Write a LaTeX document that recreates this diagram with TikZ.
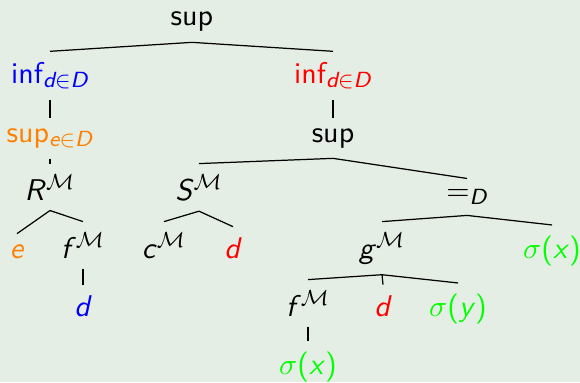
\documentclass[tikz,border=0pt,11pt]{standalone}
\usepackage{amsmath}
\definecolor{slide}{HTML}{E5EEE5}
\definecolor{qblue}{HTML}{0000FF}
\definecolor{qred}{HTML}{FF0000}
\definecolor{qorange}{HTML}{FF8000}
\definecolor{qgreen}{HTML}{00FF00}
\newcommand{\tvar}[1]{\text{\sffamily\itshape #1}}
\tikzset{termnode/.style={anchor=base,inner sep=0.333em,font=\sffamily},
 termedge/.style={draw=black,line width=0.45pt}}

\begin{document}
\begin{tikzpicture}[x=0.365pt,y=-0.365pt,t/.style={termnode}]
\fill[slide] (0,0) rectangle (580,382);
\useasboundingbox (0,0) rectangle (580,382);
\node[t] (top) at (192,26) {sup};
\node[t,text=qblue] (infl) at (50,83) {inf$_{\tvar{d}\in\tvar{D}}$};
\node[t,text=qred] (infr) at (333,83) {inf$_{\tvar{d}\in\tvar{D}}$};
\node[t,text=qorange] (supl) at (50,142) {sup$_{\tvar{e}\in\tvar{D}}$};
\node[t] (supr) at (333,142) {sup};
\node[t] (rm) at (50,200) {\textit{R}$^{\mathcal{M}}$};
\node[t] (sm) at (199,200) {\textit{S}$^{\mathcal{M}}$};
\node[t] (eqd) at (467,200) {$=_{\tvar{D}}$};
\node[t,text=qorange] (e) at (17,258) {\textit{e}};
\node[t] (fl) at (83,258) {\textit{f}$^{\mathcal{M}}$};
\node[t] (cm) at (164,258) {\textit{c}$^{\mathcal{M}}$};
\node[t,text=qred] (dr) at (233,258) {\textit{d}};
\node[t] (gm) at (382,258) {\textit{g}$^{\mathcal{M}}$};
\node[t,text=qgreen] (sx) at (552,258) {$\sigma$(\textit{x})};
\node[t,text=qblue] (dl) at (83,316) {\textit{d}};
\node[t] (fr) at (308,316) {\textit{f}$^{\mathcal{M}}$};
\node[t,text=qred] (dm) at (383,316) {\textit{d}};
\node[t,text=qgreen] (sy) at (458,316) {$\sigma$(\textit{y})};
\node[t,text=qgreen] (sxb) at (308,374) {$\sigma$(\textit{x})};
\draw[termedge] (top.south)--(infl.north);\draw[termedge] (top.south)--(infr.north);
\draw[termedge] (infl.south)--(supl.north);\draw[termedge] (supl.south)--(rm.north);
\draw[termedge] (rm.south)--(e.north);\draw[termedge] (rm.south)--(fl.north);
\draw[termedge] (fl.south)--(dl.north);
\draw[termedge] (infr.south)--(supr.north);
\draw[termedge] (supr.south)--(sm.north);\draw[termedge] (supr.south)--(eqd.north);
\draw[termedge] (sm.south)--(cm.north);\draw[termedge] (sm.south)--(dr.north);
\draw[termedge] (eqd.south)--(gm.north);\draw[termedge] (eqd.south)--(sx.north);
\draw[termedge] (gm.south)--(fr.north);\draw[termedge] (gm.south)--(dm.north);\draw[termedge] (gm.south)--(sy.north);
\draw[termedge] (fr.south)--(sxb.north);
\end{tikzpicture}
\end{document}
